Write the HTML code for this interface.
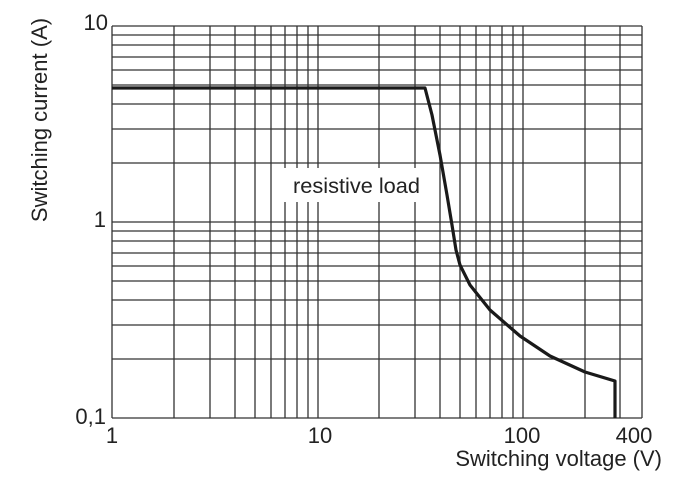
<!DOCTYPE html>
<html><head><style>body{margin:0;background:#fff}</style></head><body>
<svg width="697" height="496" xmlns="http://www.w3.org/2000/svg" font-family="Liberation Sans, sans-serif" fill="#222">
<g stroke="#333" stroke-width="1.3">
<line x1="112" y1="26" x2="642" y2="26"/><line x1="112" y1="418" x2="642" y2="418"/>
<line x1="112" y1="26" x2="112" y2="418"/><line x1="642" y1="26" x2="642" y2="418"/>
<g id="h">
<line x1="112" x2="642" y1="35" y2="35"/><line x1="112" x2="642" y1="45" y2="45"/><line x1="112" x2="642" y1="57" y2="57"/><line x1="112" x2="642" y1="70" y2="70"/><line x1="112" x2="642" y1="85" y2="85"/><line x1="112" x2="642" y1="104" y2="104"/><line x1="112" x2="642" y1="129" y2="129"/><line x1="112" x2="642" y1="163" y2="163"/>
</g>
<use href="#h" y="196"/>
<line x1="112" x2="642" y1="222" y2="222"/>
<g id="v">
<line y1="26" y2="418" x1="174" x2="174"/><line y1="26" y2="418" x1="210" x2="210"/><line y1="26" y2="418" x1="235" x2="235"/><line y1="26" y2="418" x1="255" x2="255"/><line y1="26" y2="418" x1="271" x2="271"/><line y1="26" y2="418" x1="285" x2="285"/><line y1="26" y2="418" x1="297" x2="297"/><line y1="26" y2="418" x1="308" x2="308"/><line y1="26" y2="418" x1="318" x2="318"/>
</g>
<use href="#v" x="205"/>
<line y1="26" y2="418" x1="585" x2="585"/><line y1="26" y2="418" x1="620" x2="620"/>
</g>
<rect x="276" y="168" width="156" height="34" fill="#fff"/>
<text x="293" y="193" font-size="21" textLength="127" lengthAdjust="spacingAndGlyphs">resistive load</text>
<polyline fill="none" stroke="#1a1a1a" stroke-width="3.2" stroke-linejoin="round" points="112,88 425,88 432,115 440,155 447,195 452,225 456,250 460,265 470,285 490,310 520,336 550,356 585,372 615,381 615,418"/>
<g font-size="22">
<text x="108" y="30" text-anchor="end">10</text>
<text x="106" y="227" text-anchor="end">1</text>
<text x="106" y="424" text-anchor="end">0,1</text>
<text x="112" y="443" text-anchor="middle">1</text>
<text x="320" y="443" text-anchor="middle">10</text>
<text x="522" y="443" text-anchor="middle">100</text>
<text x="634" y="443" text-anchor="middle">400</text>
<text x="662" y="466" text-anchor="end">Switching voltage (V)</text>
<text transform="translate(47,120) rotate(-90)" text-anchor="middle">Switching current (A)</text>
</g>
</svg>
</body></html>
